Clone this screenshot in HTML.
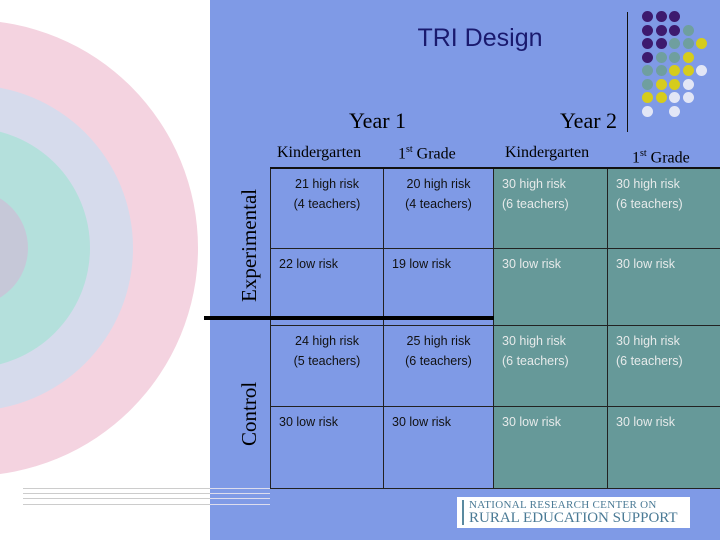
<!DOCTYPE html>
<html><head><meta charset="utf-8"><style>
body{margin:0}
#s{position:relative;width:720px;height:540px;overflow:hidden;background:#fff;font-family:"Liberation Sans",sans-serif}
.a{position:absolute}
.c{position:absolute;border-radius:50%}
.serif{font-family:"Liberation Serif",serif}
.cell{position:absolute;font-size:12.5px;box-sizing:border-box;border:1px solid #222;padding-top:5px;line-height:20px}
.dot{position:absolute;width:11px;height:11px;border-radius:50%}
</style></head><body>
<div id="s">
<div class="c" style="left:-258px;top:20px;width:456px;height:456px;background:#f4d3e0"></div>
<div class="c" style="left:-193px;top:85px;width:326px;height:326px;background:#d6dbec"></div>
<div class="c" style="left:-150px;top:128px;width:240px;height:240px;background:#b4e0dc"></div>
<div class="c" style="left:-88px;top:190px;width:116px;height:116px;background:#c6c8d8"></div>
<div class="a" style="left:210px;top:0;width:510px;height:540px;background:#7f9ae6"></div>
<div class="a" style="left:23px;top:488px;width:250px;height:18px">
<div class="a" style="top:0;left:0;width:187px;border-top:1px solid #ccc"></div>
<div class="a" style="top:5px;left:0;width:187px;border-top:1px solid #ccc"></div>
<div class="a" style="top:10px;left:0;width:187px;border-top:1px solid #ccc"></div>
<div class="a" style="top:16px;left:0;width:187px;border-top:1px solid #ccc"></div>
<div class="a" style="top:0;left:187px;width:60px;border-top:1px solid #dde"></div>
<div class="a" style="top:5px;left:187px;width:60px;border-top:1px solid #dde"></div>
<div class="a" style="top:10px;left:187px;width:60px;border-top:1px solid #dde"></div>
<div class="a" style="top:16px;left:187px;width:60px;border-top:1px solid #dde"></div>
</div>
<div class="a" style="left:380px;top:24px;width:200px;text-align:center;font-size:25px;color:#1a1a6e">TRI Design</div>
<div class="a" style="left:627px;top:12px;width:1px;height:120px;background:#111"></div>
<div id="dots" class="a" style="left:0;top:0"></div>
<div class="a serif" style="left:349px;top:108px;font-size:22px">Year 1</div>
<div class="a serif" style="left:560px;top:108px;font-size:22px">Year 2</div>
<div class="a serif" style="left:277px;top:144px;font-size:16px">Kindergarten</div>
<div class="a serif" style="left:398px;top:144px;font-size:16px">1<sup style="font-size:10px">st</sup> Grade</div>
<div class="a serif" style="left:505px;top:144px;font-size:16px">Kindergarten</div>
<div class="a serif" style="left:632px;top:148px;font-size:16px">1<sup style="font-size:10px">st</sup> Grade</div>
<div class="a serif" style="left:237px;top:302px;transform:rotate(-90deg);transform-origin:0 0;font-size:21px;white-space:nowrap">Experimental</div>
<div class="a serif" style="left:237px;top:446px;transform:rotate(-90deg);transform-origin:0 0;font-size:21px;white-space:nowrap">Control</div>
<div id="tbl"></div>
<div class="a" style="left:270px;top:167px;width:450px;height:2px;background:#111"></div>
<div class="a" style="left:204px;top:316px;width:290px;height:4px;background:#000"></div>
<div class="a" style="left:457px;top:497px;width:233px;height:31px;background:#fff">
<div class="a" style="left:5px;top:3px;width:2px;height:25px;background:#5a8aa0"></div>
<div class="a serif" style="left:12px;top:2px;font-size:11px;color:#4a7a95;white-space:nowrap;letter-spacing:0.3px">NATIONAL RESEARCH CENTER ON</div>
<div class="a serif" style="left:12px;top:13px;font-size:15px;color:#4a7a95;white-space:nowrap">RURAL EDUCATION SUPPORT</div>
</div>
</div>
<script>
const dotRows=["PPP","PPPT","PPTTY","PTTY","TTYYW","TYYW","YYWW","W.W"];
const col={P:"#3d1a6e",T:"#6f9f9f",Y:"#d6cc1c",W:"#e2e6f6"};
const dots=document.getElementById('dots');
dotRows.forEach((r,i)=>{[...r].forEach((ch,j)=>{if(ch==='.')return;
const d=document.createElement('div');d.className='dot';


d.style.left=(642+j*13.5)+'px';d.style.top=(11+i*13.5)+'px';d.style.background=col[ch];dots.appendChild(d);});});
const colX=[270,383,493,607,721];
const rowY=[168,248,325,406,488];
const cells=[
["21 high risk<br>(4 teachers)","20 high risk<br>(4 teachers)","30 high risk<br>(6 teachers)","30 high risk<br>(6 teachers)"],
["22 low risk","19 low risk","30 low risk","30 low risk"],
["24 high risk<br>(5 teachers)","25 high risk<br>(6 teachers)","30 high risk<br>(6 teachers)","30 high risk<br>(6 teachers)"],
["30 low risk","30 low risk","30 low risk","30 low risk"]];
const tbl=document.getElementById('tbl');
cells.forEach((row,i)=>row.forEach((t,j)=>{
const c=document.createElement('div');c.className='cell';


c.style.left=colX[j]+'px';c.style.top=rowY[i]+'px';c.style.width=(colX[j+1]-colX[j]+1)+'px';c.style.height=(rowY[i+1]-rowY[i]+1)+'px';
c.style.background=j>=2?'#669999':'#7f9ae6';
c.style.color=j>=2?'#e6eaea':'#111';
c.style.textAlign=(i%2===0&&j<2)?'center':'left';
c.style.paddingLeft=(i%2===0&&j<2)?'0':'8px';
c.innerHTML=t;tbl.appendChild(c);}));
</script>
</body></html>
